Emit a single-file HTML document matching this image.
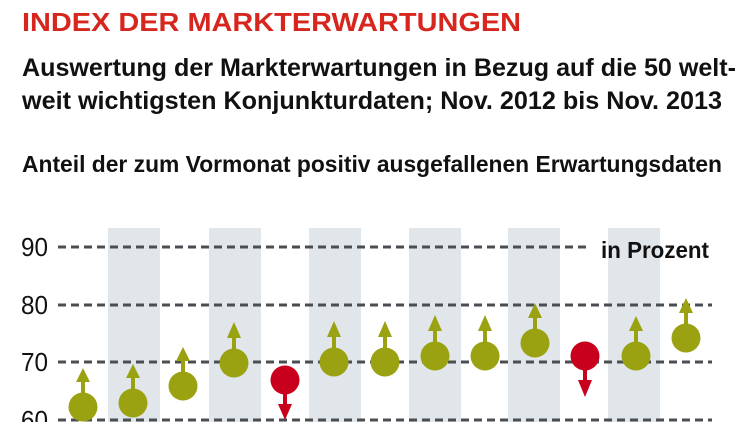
<!DOCTYPE html>
<html><head><meta charset="utf-8"><style>
html,body{margin:0;padding:0;background:#fff;}
svg{display:block;}
text{font-family:"Liberation Sans Narrow","Liberation Sans",sans-serif;}
</style></head><body>
<svg width="750" height="422" viewBox="0 0 750 422" xmlns="http://www.w3.org/2000/svg">
<text x="22" y="31" font-size="26" font-weight="bold" fill="#d7261e" textLength="499" lengthAdjust="spacingAndGlyphs">INDEX DER MARKTERWARTUNGEN</text>
<text x="22" y="76" font-size="25" font-weight="bold" fill="#111" textLength="714" lengthAdjust="spacingAndGlyphs">Auswertung der Markterwartungen in Bezug auf die 50 welt-</text>
<text x="22" y="109" font-size="25" font-weight="bold" fill="#111" textLength="700" lengthAdjust="spacingAndGlyphs">weit wichtigsten Konjunkturdaten; Nov. 2012 bis Nov. 2013</text>
<text x="22" y="172" font-size="23" font-weight="bold" fill="#111" textLength="700" lengthAdjust="spacingAndGlyphs">Anteil der zum Vormonat positiv ausgefallenen Erwartungsdaten</text>
<g fill="#e1e6ea">
<rect x="108" y="228" width="52" height="194"/><rect x="209" y="228" width="52" height="194"/>
<rect x="309" y="228" width="52" height="194"/><rect x="409" y="228" width="52" height="194"/>
<rect x="508" y="228" width="52" height="194"/><rect x="608" y="228" width="52" height="194"/>
</g>
<g stroke="#4a4d52" stroke-width="3" stroke-dasharray="8,5">
<line x1="58" y1="247" x2="590" y2="247"/>
<line x1="58" y1="305" x2="712" y2="305"/>
<line x1="58" y1="362" x2="712" y2="362"/>
<line x1="58" y1="420" x2="712" y2="420"/>
</g>
<g font-size="26" fill="#111">
<text x="21" y="256" textLength="27" lengthAdjust="spacingAndGlyphs">90</text><text x="21" y="314" textLength="27" lengthAdjust="spacingAndGlyphs">80</text><text x="21" y="371" textLength="27" lengthAdjust="spacingAndGlyphs">70</text><text x="21" y="429" textLength="27" lengthAdjust="spacingAndGlyphs">60</text>
</g>
<text x="601" y="258" font-size="23" font-weight="bold" fill="#111" textLength="108" lengthAdjust="spacingAndGlyphs">in Prozent</text>
<g fill="#9aa212" stroke="#9aa212">
<g><line x1="83" y1="407" x2="83" y2="378" stroke-width="4"/><polygon points="76,382 90,382 83,368" stroke="none"/><circle cx="83" cy="407" r="14.5" stroke="none"/></g>
<g><line x1="133" y1="403" x2="133" y2="374" stroke-width="4"/><polygon points="126,378 140,378 133,364" stroke="none"/><circle cx="133" cy="403" r="14.5" stroke="none"/></g>
<g><line x1="183" y1="386" x2="183" y2="357" stroke-width="4"/><polygon points="176,361 190,361 183,347" stroke="none"/><circle cx="183" cy="386" r="14.5" stroke="none"/></g>
<g><line x1="234" y1="363" x2="234" y2="334" stroke-width="4"/><polygon points="227,338 241,338 234,322" stroke="none"/><circle cx="234" cy="363" r="14.5" stroke="none"/></g>
<g><line x1="334" y1="362" x2="334" y2="333" stroke-width="4"/><polygon points="327,337 341,337 334,321" stroke="none"/><circle cx="334" cy="362" r="14.5" stroke="none"/></g>
<g><line x1="385" y1="362" x2="385" y2="333" stroke-width="4"/><polygon points="378,337 392,337 385,321" stroke="none"/><circle cx="385" cy="362" r="14.5" stroke="none"/></g>
<g><line x1="435" y1="356" x2="435" y2="327" stroke-width="4"/><polygon points="428,331 442,331 435,315" stroke="none"/><circle cx="435" cy="356" r="14.5" stroke="none"/></g>
<g><line x1="485" y1="356" x2="485" y2="327" stroke-width="4"/><polygon points="478,331 492,331 485,315" stroke="none"/><circle cx="485" cy="356" r="14.5" stroke="none"/></g>
<g><line x1="535" y1="343" x2="535" y2="314" stroke-width="4"/><polygon points="528,318 542,318 535,303" stroke="none"/><circle cx="535" cy="343" r="14.5" stroke="none"/></g>
<g><line x1="636" y1="356" x2="636" y2="327" stroke-width="4"/><polygon points="629,331 643,331 636,316" stroke="none"/><circle cx="636" cy="356" r="14.5" stroke="none"/></g>
<g><line x1="686" y1="338" x2="686" y2="309" stroke-width="4"/><polygon points="679,313 693,313 686,298" stroke="none"/><circle cx="686" cy="338" r="14.5" stroke="none"/></g>
</g>
<g fill="#c8001e" stroke="#c8001e">
<g><line x1="285" y1="380" x2="285" y2="408" stroke-width="4"/><polygon points="278,404 292,404 285,420" stroke="none"/><circle cx="285" cy="380" r="14.5" stroke="none"/></g>
<g><line x1="585" y1="356" x2="585" y2="384" stroke-width="4"/><polygon points="578,380 592,380 585,397" stroke="none"/><circle cx="585" cy="356" r="14.5" stroke="none"/></g>
</g>
</svg>
</body></html>
